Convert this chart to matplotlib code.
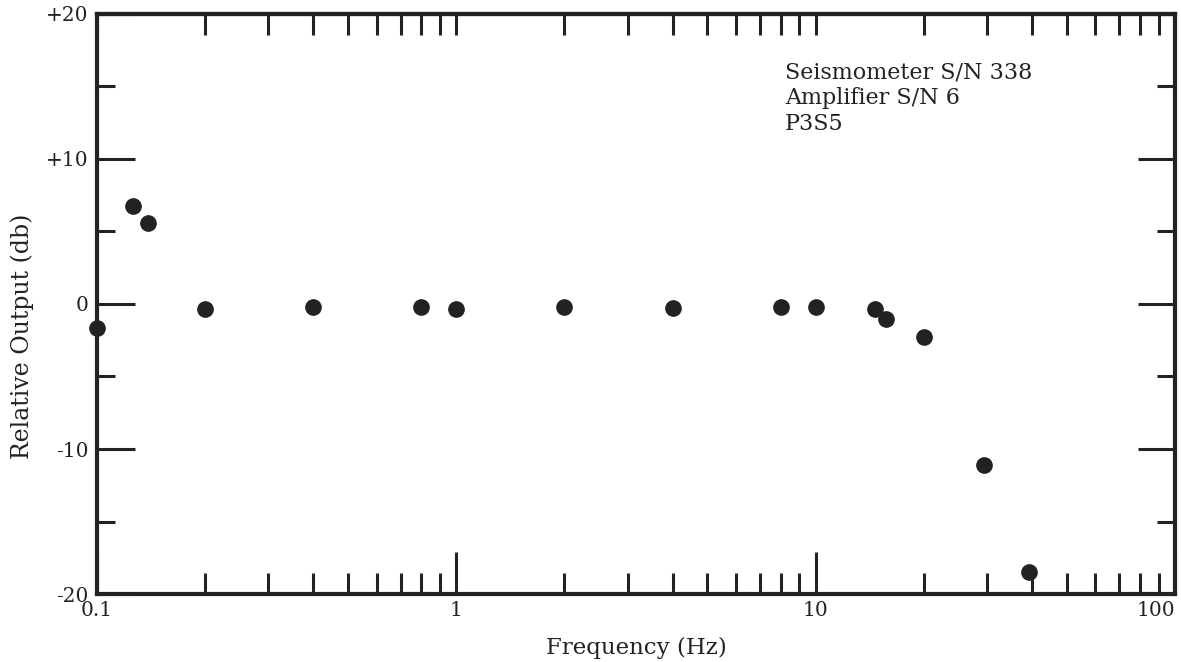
import numpy as np
import matplotlib

matplotlib.use("Agg")

import matplotlib.pyplot as plt
from matplotlib.ticker import FixedLocator, NullFormatter

# data
freq_hz = [0.1, 0.126, 0.139, 0.2, 0.4, 0.8, 1.0, 2.0, 4.0, 8.0, 10.0, 14.6, 15.7, 20.0, 29.4, 39.2]
rel_db = [-1.65, 6.75, 5.6, -0.35, -0.2, -0.2, -0.35, -0.2, -0.3, -0.2, -0.2, -0.35, -1.05, -2.3, -11.1, -18.5]

x_major = [0.1, 1, 10, 100]
x_major_labels = ["0.1", "1", "10", "100"]
y_major = [-20, -10, 0, 10, 20]
y_major_labels = ["-20", "-10", "0", "+10", "+20"]
y_minor = [-15, -5, 5, 15]

info_lines = ["Seismometer S/N 338", "Amplifier S/N 6", "P3S5"]

plt.rcParams["font.family"] = ["DejaVu Serif"]
ink = "#222222"

fig = plt.figure(figsize=(11.81, 6.62), dpi=100)
ax = fig.add_axes([0.0821, 0.1027, 0.9128, 0.8762])

ax.plot(freq_hz, rel_db, "o", color=ink, markersize=11, clip_on=False, zorder=5)

ax.set_xscale("log")
ax.set_xlim(0.1, 100)
ax.set_ylim(-20, 20)

# x ticks
x_minor = [m * d for d in [0.1, 1, 10] for m in range(2, 10)]
ax.xaxis.set_major_locator(FixedLocator(x_major))
ax.xaxis.set_minor_locator(FixedLocator(x_minor))
ax.xaxis.set_minor_formatter(NullFormatter())
ax.set_xticklabels(x_major_labels)
xl = ax.get_xticklabels()
xl[-1].set_horizontalalignment("right")

# y ticks
ax.yaxis.set_major_locator(FixedLocator(y_major))
ax.yaxis.set_minor_locator(FixedLocator(y_minor))
ax.set_yticklabels(y_major_labels)

ax.tick_params(axis="x", which="major", direction="in", length=30, width=2.2, color=ink,
               labelsize=14.5, labelcolor=ink, pad=5)
ax.tick_params(axis="x", which="minor", direction="in", length=15, width=2.2, color=ink)
ax.tick_params(axis="y", which="major", direction="in", length=27, width=2.2, color=ink,
               labelsize=14.5, labelcolor=ink, right=True, pad=6)
ax.tick_params(axis="y", which="minor", direction="in", length=13, width=2.2, color=ink, right=True)

# top axis ticks, all the same short length
top = ax.secondary_xaxis("top")
top.xaxis.set_major_locator(FixedLocator(x_major))
top.xaxis.set_minor_locator(FixedLocator(x_minor))
top.xaxis.set_major_formatter(NullFormatter())
top.xaxis.set_minor_formatter(NullFormatter())
top.tick_params(which="both", direction="in", length=15, width=2.2, color=ink)
top.spines["top"].set_linewidth(3)
top.spines["top"].set_color(ink)

for s in ax.spines.values():
    s.set_linewidth(3)
    s.set_color(ink)

ax.set_xlabel("Frequency (Hz)", fontsize=16.5, color=ink, labelpad=12)
ax.set_ylabel("Relative Output (db)", fontsize=17, color=ink)
ax.yaxis.set_label_coords(-0.058, 0.445)

ax.text(0.638, 0.918, "\n".join(info_lines), transform=ax.transAxes, fontsize=16,
        color=ink, va="top", ha="left", linespacing=1.22)

fig.savefig("out.png", dpi=100)
